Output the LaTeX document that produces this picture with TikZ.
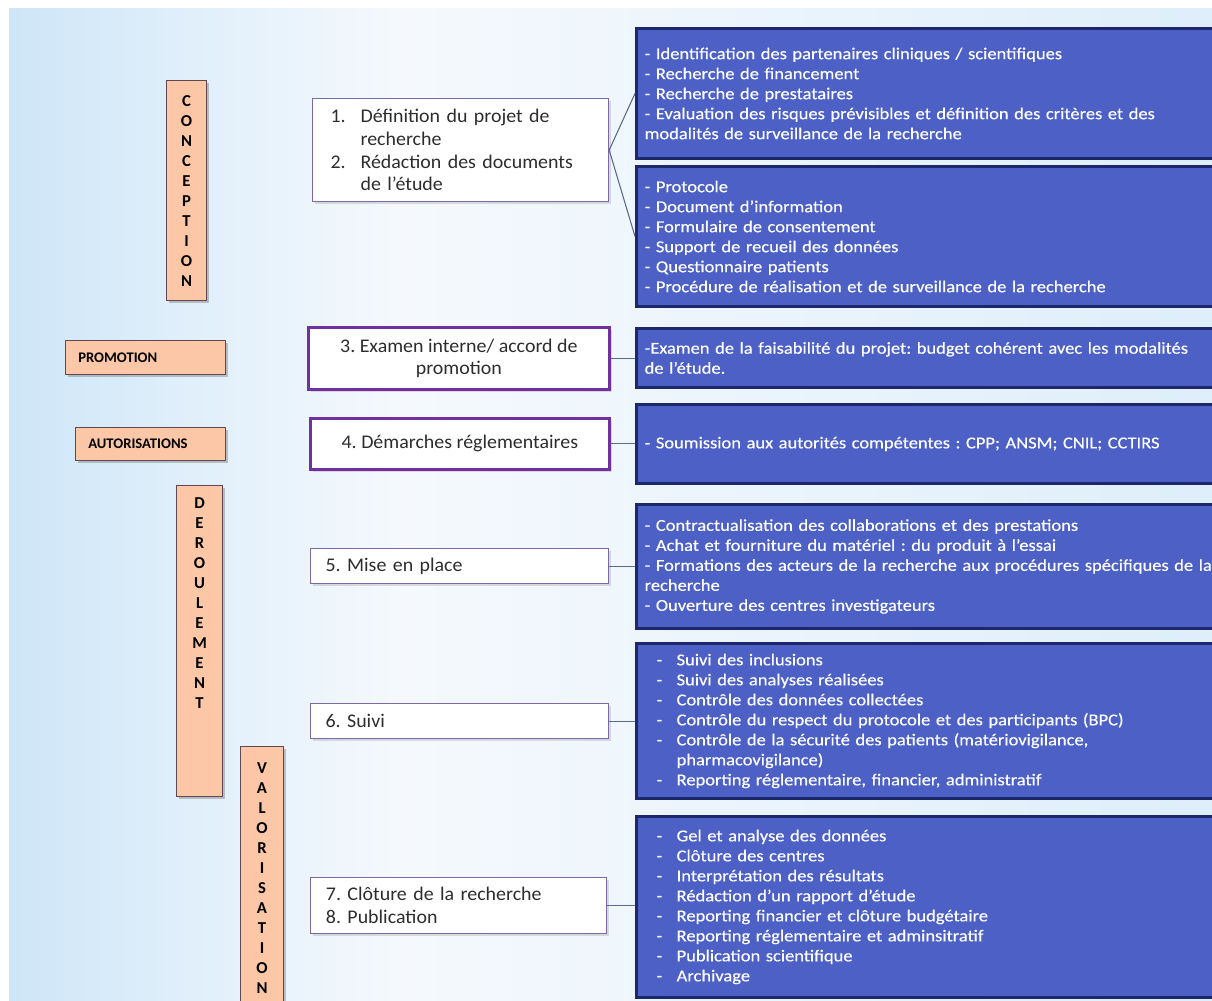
\documentclass[tikz,border=0pt]{standalone}
\usepackage{fontspec}
\setmainfont{Carlito}
\newfontfamily\bluefont[FakeStretch=1.11,FakeBold=0.3]{Carlito}
\newfontfamily\stepfont[FakeStretch=1.03]{Carlito}
\usetikzlibrary{shadows}
\definecolor{bluefill}{RGB}{76,96,198}
\definecolor{blueedge}{RGB}{28,40,105}
\definecolor{orfill}{RGB}{251,199,166}
\definecolor{oredge}{RGB}{95,72,82}
\definecolor{stepedge}{RGB}{125,105,165}
\definecolor{stepthick}{RGB}{112,48,160}
\definecolor{steptext}{RGB}{45,45,45}
\definecolor{linkc}{RGB}{90,105,140}
\definecolor{bgL}{RGB}{206,230,248}
\definecolor{bgM}{RGB}{245,249,253}
\definecolor{bgR}{RGB}{222,238,250}
\newcommand{\tabdash}[1]{\hspace*{9pt}\makebox[15pt][l]{-}#1}
\frenchspacing
\begin{document}
\begin{tikzpicture}[x=0.75pt,y=-0.75pt,
  sz/.style 2 args={minimum width=#1*0.75pt, minimum height=#2*0.75pt},
  bluebox/.style={draw=blueedge, line width=2.2pt, fill=bluefill, text=white,
    anchor=north west, inner xsep=6pt, inner ysep=0pt, align=left,
    text width=434pt, font=\bluefont\fontsize{12.5}{15}\selectfont},
  stepbox/.style={draw=stepedge, line width=0.9pt, fill=white, text=steptext,
    anchor=north west, inner ysep=0pt,
    drop shadow={opacity=0.25, shadow xshift=2pt, shadow yshift=-2pt},
    font=\stepfont\fontsize{14.5}{17}\selectfont},
  thickstep/.style={stepbox, draw=stepthick, line width=2pt},
  orbox/.style={draw=oredge, line width=0.8pt, fill=orfill, anchor=north west,
    drop shadow={opacity=0.45, shadow xshift=2pt, shadow yshift=-2pt}},
  orlabel/.style={font=\bfseries\fontsize{11}{13}\selectfont, text=black, anchor=west, inner sep=0pt},
  vletters/.style={font=\bfseries\fontsize{12.5}{15}\selectfont, text=black, align=center, inner sep=0pt},
  link/.style={draw=linkc, line width=0.8pt}
]
\useasboundingbox (0,0) rectangle (1212,1000);
% background
\fill[white] (0,0) rectangle (1212,1000);
\shade[left color=bgL, right color=bgM] (9,8) rectangle (400,1000);
\shade[left color=bgM, right color=bgR] (400,8) rectangle (1212,1000);

% orange phase boxes
\node[orbox, sz={40}{220}] (conc) at (166,80) {};
\node[vletters, anchor=center] (concT) at (conc.center) {C\\O\\N\\C\\E\\P\\T\\I\\O\\N};
\node[orbox, sz={160}{34}] (promo) at (65,340) {};
\node[orlabel] (promoT) at ([xshift=9.75pt]promo.west) {PROMOTION};
\node[orbox, sz={150}{33}] (autor) at (75,427) {};
\node[orlabel] (autorT) at ([xshift=9.75pt]autor.west) {AUTORISATIONS};
\node[orbox, sz={46}{311}] (derou) at (176,485) {};
\node[vletters, anchor=north] (derouT) at ([yshift=-9pt]derou.north) {D\\E\\R\\O\\U\\L\\E\\M\\E\\N\\T};
\node[orbox, sz={43}{275}] (valo) at (240,746) {};
\node[vletters, anchor=north] (valoT) at ([yshift=-12pt]valo.north) {V\\A\\L\\O\\R\\I\\S\\A\\T\\I\\O\\N};

% step boxes
\node[stepbox, sz={296}{103}, inner xsep=13.5pt, text width=195pt, align=left] (s1) at (312,98)
  {\makebox[22.5pt][l]{1.}Définition du projet de\\
   \hspace*{22.5pt}recherche\\
   \makebox[22.5pt][l]{2.}Rédaction des documents\\
   \hspace*{22.5pt}de l’étude};
\node[thickstep, sz={301}{62}, align=center] (s3) at (307,326)
  {3. Examen interne/ accord de\\promotion};
\node[thickstep, sz={299}{51}, align=center] (s4) at (309,417)
  {4. Démarches réglementaires};
\node[stepbox, sz={298}{35}, inner xsep=11.25pt, text width=201pt, align=left] (s5) at (310,548)
  {5. Mise en place};
\node[stepbox, sz={298}{35}, inner xsep=11.25pt, text width=201pt, align=left] (s6) at (310,703)
  {6. Suivi};
\node[stepbox, sz={296}{56}, inner xsep=11.25pt, text width=199pt, align=left] (s7) at (310,877)
  {7. Clôture de la recherche\\8. Publication};

% blue detail boxes
\node[bluebox, sz={595}{130}] (b1) at (635,27)
  {- Identification des partenaires cliniques / scientifiques\\
   - Recherche de financement\\
   - Recherche de prestataires\\
   - Evaluation des risques prévisibles et définition des critères et des\\
   modalités de surveillance de la recherche};
\node[bluebox, sz={595}{140}] (b2) at (635,165)
  {- Protocole\\
   - Document d’information\\
   - Formulaire de consentement\\
   - Support de recueil des données\\
   - Questionnaire patients\\
   - Procédure de réalisation et de surveillance de la recherche};
\node[bluebox, sz={595}{59}] (b3) at (635,327)
  {-Examen de la faisabilité du projet: budget cohérent avec les modalités\\
   de l’étude.};
\node[bluebox, sz={595}{79}] (b4) at (635,403)
  {- Soumission aux autorités compétentes : CPP; ANSM; CNIL; CCTIRS};
\node[bluebox, sz={595}{124}] (b5) at (635,503)
  {- Contractualisation des collaborations et des prestations\\
   - Achat et fourniture du matériel : du produit à l’essai\\
   - Formations des acteurs de la recherche aux procédures spécifiques de la\\
   recherche\\
   - Ouverture des centres investigateurs};
\node[bluebox, sz={595}{155}] (b6) at (635,642)
  {\tabdash{Suivi des inclusions}\\
   \tabdash{Suivi des analyses réalisées}\\
   \tabdash{Contrôle des données collectées}\\
   \tabdash{Contrôle du respect du protocole et des participants (BPC)}\\
   \tabdash{Contrôle de la sécurité des patients (matériovigilance,}\\
   \hspace*{24pt}pharmacovigilance)\\
   \tabdash{Reporting réglementaire, financier, administratif}};
\node[bluebox, sz={595}{181}] (b7) at (635,815)
  {\tabdash{Gel et analyse des données}\\
   \tabdash{Clôture des centres}\\
   \tabdash{Interprétation des résultats}\\
   \tabdash{Rédaction d’un rapport d’étude}\\
   \tabdash{Reporting financier et clôture budgétaire}\\
   \tabdash{Reporting réglementaire et adminsitratif}\\
   \tabdash{Publication scientifique}\\
   \tabdash{Archivage}};

% connectors
\draw[link] (s1.east) -- (b1.west);
\draw[link] (s1.east) -- (b2.west);
\draw[link] (s3.east) -- (s3.east -| b3.west);
\draw[link] (s4.east) -- (s4.east -| b4.west);
\draw[link] (s5.east) -- (s5.east -| b5.west);
\draw[link] (s6.east) -- (s6.east -| b6.west);
\draw[link] (s7.east) -- (s7.east -| b7.west);
\end{tikzpicture}
\end{document}
